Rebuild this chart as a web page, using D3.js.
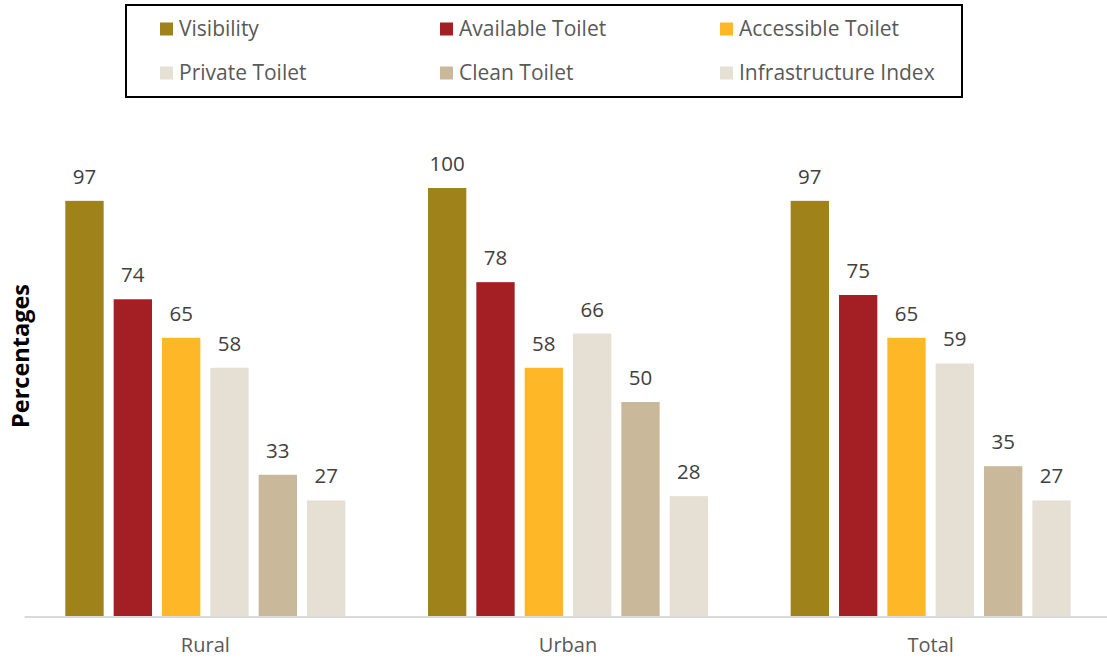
<!DOCTYPE html>
<html>
<head>
<meta charset="utf-8">
<script src="https://cdn.jsdelivr.net/npm/d3@7"></script>
<style>
  html, body { margin: 0; padding: 0; background: #fff; }
  svg { display: block; font-family: "Open Sans", "Noto Sans", sans-serif; }
</style>
</head>
<body>
<svg id="chart" width="1107" height="659"></svg>
<script>
// Groups along the x axis
const categories = ["Rural", "Urban", "Total"];
// Indicator series (one bar per group each)
const seriesNames = ["Visibility", "Available Toilet", "Accessible Toilet", "Private Toilet", "Clean Toilet", "Infrastructure Index"];
const seriesColors = ["#A0821B", "#A31F24", "#FDB727", "#E6DFD3", "#C9B99A", "#E6DFD3"];
// Percentages per series, ordered Rural, Urban, Total
const visibility = [97, 100, 97];
const availableToilet = [74, 78, 75];
const accessibleToilet = [65, 58, 65];
const privateToilet = [58, 66, 59];
const cleanToilet = [33, 50, 35];
const infrastructureIndex = [27, 28, 27];
const seriesValues = [visibility, availableToilet, accessibleToilet, privateToilet, cleanToilet, infrastructureIndex];

const svg = d3.select("#chart");

const plot = { left: 24, right: 1112, top: 188, bottom: 616 };

const x0 = d3.scaleBand().domain(categories).range([plot.left, plot.right]).padding(0);
const x1 = d3.scaleBand().domain(seriesNames).range([0, x0.bandwidth()])
  .paddingInner(0.207).paddingOuter(0.855);
const y = d3.scaleLinear().domain([0, 100]).range([plot.bottom, plot.top]);

// Bars and value labels
const groups = svg.append("g").selectAll("g")
  .data(categories)
  .join("g")
  .attr("transform", d => `translate(${x0(d)},0)`);

groups.each(function(cat, ci) {
  const g = d3.select(this);
  const rows = seriesNames.map((s, si) => ({ s, si, v: seriesValues[si][ci] }));
  g.selectAll("rect")
    .data(rows)
    .join("rect")
    .attr("x", d => x1(d.s))
    .attr("y", d => y(d.v))
    .attr("width", x1.bandwidth())
    .attr("height", d => y(0) - y(d.v))
    .attr("fill", d => seriesColors[d.si]);
  g.selectAll("text")
    .data(rows)
    .join("text")
    .attr("x", d => x1(d.s) + x1.bandwidth() / 2)
    .attr("y", d => y(d.v) - 17)
    .attr("text-anchor", "middle")
    .attr("font-size", 20.5)
    .attr("fill", "#404040")
    .text(d => d.v);
});

// Category axis
const xAxis = svg.append("g")
  .attr("transform", `translate(0,${plot.bottom + 0.5})`)
  .call(d3.axisBottom(x0).tickSize(0).tickPadding(21));
xAxis.select(".domain").attr("stroke", "#D9D9D9").attr("stroke-width", 2);
xAxis.selectAll("text")
  .attr("font-size", 20)
  .attr("fill", "#595959")
  .attr("font-family", "\"Open Sans\", sans-serif");

// Y axis title
svg.append("text")
  .attr("transform", "translate(29,356) rotate(-90)")
  .attr("text-anchor", "middle")
  .attr("font-size", 23.5)
  .attr("font-weight", "bold")
  .attr("fill", "#000")
  .text("Percentages");

// Legend
svg.append("rect")
  .attr("x", 126).attr("y", 5)
  .attr("width", 836).attr("height", 92)
  .attr("fill", "#fff")
  .attr("stroke", "#000")
  .attr("stroke-width", 2);

const legendCols = [160, 440, 720];
const legendRows = [29, 73];
const legendItems = svg.append("g").selectAll("g")
  .data(seriesNames)
  .join("g")
  .attr("transform", (d, i) => `translate(${legendCols[i % 3]},${legendRows[Math.floor(i / 3)]})`);
legendItems.append("rect")
  .attr("x", 0).attr("y", -6.5)
  .attr("width", 13).attr("height", 13)
  .attr("fill", (d, i) => seriesColors[i]);
legendItems.append("text")
  .attr("x", 19).attr("y", 0)
  .attr("dy", "0.35em")
  .attr("font-size", 21)
  .attr("fill", "#595959")
  .text(d => d);
</script>
</body>
</html>
